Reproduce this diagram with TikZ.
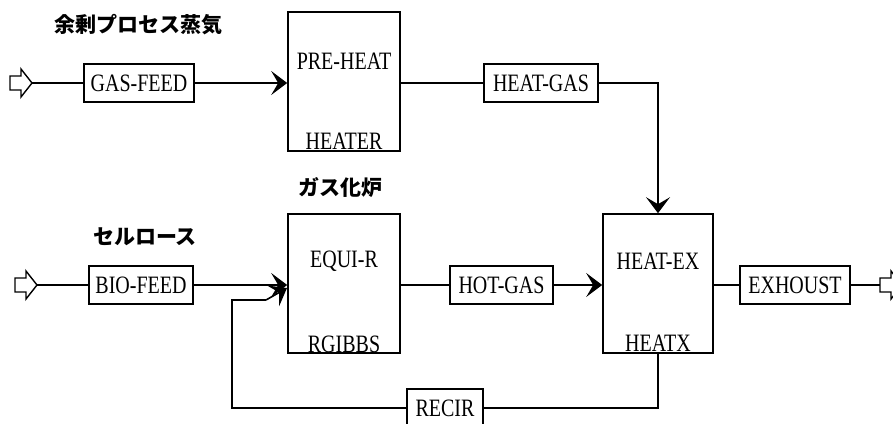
\documentclass[tikz,border=0pt]{standalone}
\usepackage{fontspec}
\setmainfont{Liberation Serif}[FakeStretch=0.8]
\newfontfamily\cjk{Noto Sans CJK JP}
\usetikzlibrary{arrows.meta}
\tikzset{
  lbl/.style={inner sep=0pt, font=\fontsize{25}{27}\selectfont},
  box/.style={draw, line width=1.6pt, inner sep=0pt, minimum height=38pt, font=\fontsize{25}{27}\selectfont},
  unit/.style={draw, line width=1.6pt, inner sep=0pt, minimum width=112pt, minimum height=139pt},
  jp/.style={inner sep=0pt, font=\cjk\bfseries\fontsize{21}{23}\selectfont},
  flow/.style={line width=1.6pt},
  tip/.style={-{Stealth[length=16pt,width=24pt,inset=7pt]}},
  blockarrow/.pic={\draw[line width=1.4pt, fill=white] (-22,-7) -- (-11,-7) -- (-11,-14) -- (0,0) -- (-11,14) -- (-11,7) -- (-22,7) -- cycle;}
}
\begin{document}
\begin{tikzpicture}[x=1pt,y=-1pt]
\useasboundingbox (0,0) rectangle (893,423);
\clip (0,0) rectangle (893,423);

% Japanese labels
\node[jp] (lsteam) at (138,25) {余剰プロセス蒸気};
\node[jp] (lgasif) at (340,188) {ガス化炉};
\node[jp] (lcell) at (145,237) {セルロース};

% top row
\pic at (32,83) {blockarrow};
\coordinate (in1) at (32,83);
\node[box, minimum width=110pt] (gasfeed) at (139,83) {GAS-FEED};
\node[unit] (preheat) at (344,81.5) {};
\node[lbl] (preheatT) at (344,61) {PRE-HEAT};
\node[lbl] (preheatB) at (344,141) {HEATER};
\node[box, minimum width=114pt] (heatgas) at (541,83) {HEAT-GAS};

% bottom row
\pic at (37,285) {blockarrow};
\coordinate (in2) at (37,285);
\node[box, minimum width=104pt] (biofeed) at (141,285) {BIO-FEED};
\node[unit] (equir) at (344,283.5) {};
\node[lbl] (equirT) at (344,261) {EQUI-R};
\node[lbl] (equirB) at (344,344) {RGIBBS};
\node[box, minimum width=103pt] (hotgas) at (501.5,285) {HOT-GAS};
\node[unit, minimum width=110pt] (heatex) at (658,283.5) {};
\node[lbl] (heatexT) at (658,261) {HEAT-EX};
\node[lbl] (heatexB) at (658,343) {HEATX};
\node[box, minimum width=110pt] (exhoust) at (795,285) {EXHOUST};
\coordinate (out) at (880,285);
\pic at (902,285) {blockarrow};
\node[box, minimum width=76pt] (recir) at (445,408) {RECIR};

% connectors
\draw[flow] (in1) -- (gasfeed.west);
\draw[flow, tip] (gasfeed.east) -- (preheat.west |- gasfeed.east);
\draw[flow] (preheat.east |- heatgas.west) -- (heatgas.west);
\draw[flow, tip] (heatgas.east) -| (heatex.north);

\draw[flow] (in2) -- (biofeed.west);
\draw[flow, tip] (biofeed.east) -- (equir.west |- biofeed.east);
\draw[flow] (equir.east |- hotgas.west) -- (hotgas.west);
\draw[flow, tip] (hotgas.east) -- (heatex.west |- hotgas.east);
\draw[flow] (heatex.east |- exhoust.west) -- (exhoust.west);
\draw[flow] (exhoust.east) -- (out);

\draw[flow] (heatex.south) |- (recir.east);
\coordinate (rc1) at (232,300);
\coordinate (rc2) at (266,300);
\coordinate (rc3) at (287,288);
\draw[flow] (recir.west) -| (rc1) -- (rc2);
\draw[flow, tip] (rc2) -- (rc3);
\end{tikzpicture}
\end{document}
